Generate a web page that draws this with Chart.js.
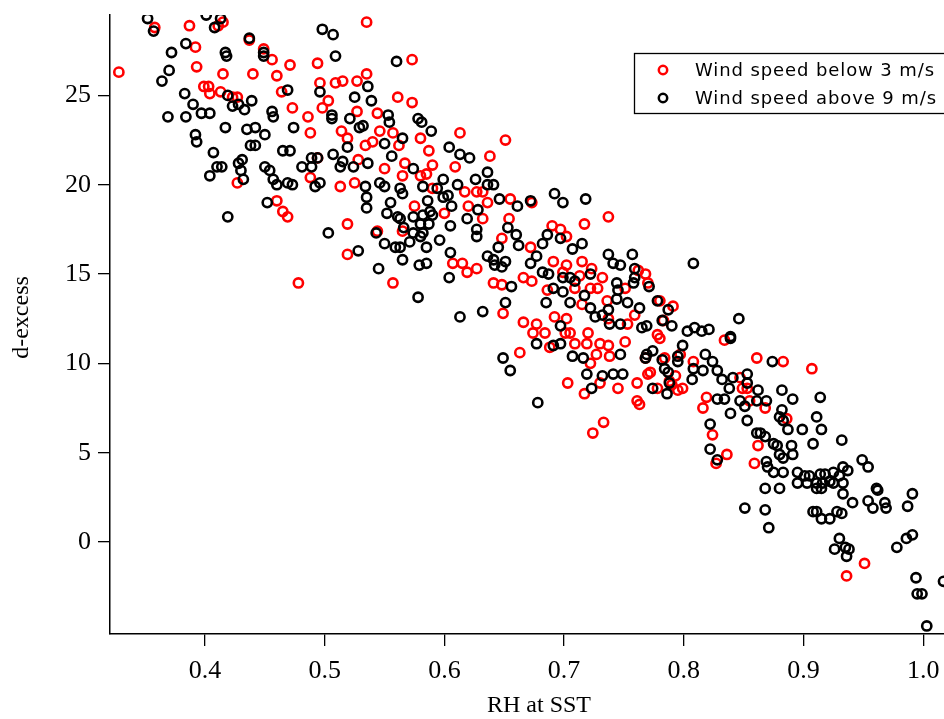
<!DOCTYPE html>
<html>
<head>
<meta charset="utf-8">
<title>d-excess vs RH at SST</title>
<script src="https://cdn.jsdelivr.net/npm/chart.js@4.4.1/dist/chart.umd.min.js"></script>
<style>
  body { margin: 0; background: #fff; }
  #wrap { width: 944px; height: 719px; }
</style>
</head>
<body>
<div id="wrap"><canvas id="graph" width="944" height="719"></canvas></div>
<script>
// ** DATA: ** //

var seriesNames = ['Wind speed below 3 m/s', 'Wind speed above 9 m/s'];
var xTicks = [0.4, 0.5, 0.6, 0.7, 0.8, 0.9, 1.0];
var yTicks = [0, 5, 10, 15, 20, 25];
var xTitle = 'RH at SST';
var yTitle = 'd-excess';

// wind speed below 3 m/s (red)
var rhBelow3 = [0.328,0.358,0.387,0.392,0.393,0.399,0.403,0.404,0.413,0.415,0.415,0.411,0.423,0.427,0.427,
  0.437,0.449,0.456,0.535,0.440,0.460,0.471,0.494,0.464,0.473,0.496,0.509,0.515,0.527,0.535,0.486,0.488,0.498,0.503,0.527,0.544,0.514,0.519,0.534,0.540,0.513,0.525,0.528,0.494,0.488,0.460,0.465,0.469,
  0.519,0.519,0.478,0.544,0.573,0.561,0.573,
  0.613,0.651,0.638,0.587,0.590,0.609,0.550,0.567,0.565,0.585,0.557,0.580,0.617,0.627,0.632,0.636,0.575,0.600,0.620,0.632,0.654,0.655,0.648,0.607,0.615,0.619,0.627,0.557,0.641,0.648,0.649,0.580,0.546,0.562,0.590,0.565,
  0.663,
  0.737,0.717,0.690,0.697,0.702,0.672,0.673,0.691,0.715,0.723,0.732,0.713,0.699,0.686,0.692,0.666,0.677,0.674,0.684,0.688,0.701,0.705,0.709,0.720,0.719,0.730,0.727,0.722,0.737,0.738,0.751,0.753,0.759,0.768,0.762,0.745,0.703,0.717,0.761,0.737,0.733,0.724,0.730,0.763,0.702,0.666,0.709,0.722,0.728,0.715,0.736,0.751,0.770,0.702,0.673,0.768,0.770,0.761,
  0.780,0.791,0.834,0.861,0.883,0.907,0.816,0.824,0.836,0.827,0.819,0.859,0.862,0.868,0.886,0.799,0.795,0.788,0.778,0.772,0.780,0.783,0.778,0.808,0.793,0.847,0.849,0.853,0.855,0.936,0.951,0.790,0.784,0.797];
var dxBelow3 = [26.3,28.8,28.9,27.7,26.6,25.5,25.5,25.1,25.2,26.2,29.1,28.9,24.9,24.9,20.1,
  28.1,27.6,27.0,29.1,26.2,26.1,26.7,26.8,25.2,24.3,25.7,25.7,25.8,25.8,26.2,23.8,22.9,24.3,24.7,24.1,24.0,23.0,22.6,22.2,22.4,19.9,20.1,21.4,21.5,20.4,19.1,18.5,18.2,
  17.8,16.1,14.5,17.4,27.0,24.9,24.6,
  22.9,22.5,21.6,21.9,21.1,21.0,20.9,21.2,20.5,20.6,22.9,22.6,19.6,19.6,19.6,19.0,18.8,18.4,18.8,18.1,18.1,19.2,17.0,15.6,15.6,15.1,15.3,14.5,14.5,14.4,12.8,20.5,23.0,22.2,19.8,17.4,
  10.6,
  18.2,17.8,17.7,17.5,17.1,16.5,14.6,15.7,15.7,15.3,14.8,14.9,15.1,14.1,12.6,12.3,12.2,11.7,11.7,10.9,11.7,11.7,11.1,11.7,11.1,11.1,10.5,10.0,11.0,10.4,11.2,12.2,12.7,15.0,15.2,8.6,8.9,8.3,7.9,12.5,6.7,6.1,8.9,7.7,15.5,14.8,14.2,14.2,14.2,13.3,13.5,14.2,14.5,12.5,19.0,10.3,9.4,8.9,
  13.5,13.2,11.3,10.3,10.1,9.7,7.5,6.0,4.9,4.4,8.1,4.4,5.4,7.5,6.9,8.6,8.5,9.0,8.6,9.5,11.4,12.4,11.6,10.1,9.3,9.2,8.6,8.6,7.9,-1.9,-1.2,8.8,10.3,10.5];

// wind speed above 9 m/s (black)
var rhAbove9 = [0.352,0.357,0.372,0.370,0.364,0.384,0.383,0.390,0.397,0.404,0.369,0.384,0.392,0.393,0.407,0.410,0.414,0.404,0.401,0.413,0.408,0.417,0.418,0.417,0.419,0.423,0.428,0.428,0.419,
  0.437,0.449,0.449,0.498,0.507,0.509,
  0.469,0.496,0.525,0.536,0.539,0.439,0.433,0.456,0.457,0.474,0.506,0.506,0.521,0.529,0.532,0.435,0.442,0.450,0.438,0.442,0.465,0.471,0.489,0.494,0.507,0.519,0.481,0.489,0.513,0.515,0.524,0.536,0.450,0.454,0.457,0.460,0.469,0.473,0.492,0.496,0.452,0.534,0.535,0.535,0.431,0.430,0.432,
  0.503,0.528,0.543,0.545,0.560,
  0.553,0.554,0.578,0.581,0.589,0.565,0.550,0.556,0.574,0.604,0.613,0.621,0.636,0.636,0.641,0.626,0.611,0.599,0.582,0.594,0.599,0.603,0.606,0.586,0.588,0.646,0.661,0.628,0.619,0.627,0.627,0.653,0.660,0.662,0.645,0.636,0.641,0.642,0.651,0.648,0.656,0.651,0.632,0.613,0.604,0.605,0.596,0.605,0.585,0.585,0.579,0.578,0.565,0.550,0.559,0.563,0.566,0.563,0.580,0.582,0.590,0.587,0.582,0.574,0.571,0.580,0.555,0.552,0.546,0.550,0.563,0.565,0.561,0.574,
  0.649,0.655,0.692,0.718,
  0.699,0.697,0.682,0.715,0.707,0.737,0.757,0.741,0.747,0.759,0.759,0.758,0.744,0.745,0.722,0.699,0.705,0.709,0.687,0.682,0.672,0.677,0.691,0.699,0.685,0.705,0.717,0.722,0.744,0.753,0.763,0.726,0.732,0.737,0.738,0.747,0.765,0.769,0.769,0.768,0.749,0.741,0.732,0.723,0.719,0.747,0.716,0.707,0.697,0.697,0.691,0.677,0.678,0.672,0.686,0.771,
  0.808,0.778,
  0.787,0.782,0.790,0.803,0.809,0.815,0.821,0.846,0.839,0.839,0.799,0.774,0.782,0.795,0.795,0.818,0.824,0.874,0.784,0.787,0.808,0.816,0.828,0.832,0.841,0.853,0.853,0.788,0.786,0.807,0.828,0.834,0.838,0.847,0.851,0.862,0.861,0.869,0.839,0.822,0.853,0.882,0.891,0.882,0.880,0.883,0.899,0.887,0.914,0.911,0.915,0.932,0.908,0.861,0.864,0.868,0.875,0.878,0.880,0.883,0.890,0.891,0.869,0.870,0.875,0.883,0.822,0.828,0.868,0.880,0.851,0.868,0.871,0.895,0.901,0.905,0.914,0.918,0.922,0.930,0.916,0.911,0.903,0.895,0.911,0.915,0.925,0.933,0.933,0.941,0.925,0.933,0.937,0.949,0.954,0.961,0.962,0.954,0.968,0.969,0.958,0.908,0.911,0.915,0.922,0.928,0.932,0.930,0.926,0.935,0.938,0.936,0.978,0.986,0.991,0.991,0.987,0.994,0.995,0.999,1.003,1.017,0.774];
var dxAbove9 = [29.3,28.6,27.4,26.4,25.8,27.9,25.1,24.5,24.0,24.0,23.8,23.8,22.8,22.4,21.8,21.0,21.0,20.5,29.5,29.3,28.8,27.4,27.2,23.2,25.0,24.4,24.5,21.2,18.2,
  28.2,27.4,27.2,28.7,28.4,27.2,
  25.3,25.2,24.9,25.5,24.7,24.7,24.2,24.1,23.8,23.2,23.9,23.7,23.7,23.2,23.3,23.1,23.2,22.8,22.2,22.2,21.9,21.9,21.5,21.5,21.7,22.1,21.0,21.0,21.0,21.3,21.0,21.2,21.0,20.8,20.3,20.0,20.1,20.0,19.9,20.1,19.0,19.9,19.3,18.7,21.4,20.8,20.3,
  17.3,16.3,17.3,15.3,26.9,
  23.9,23.5,23.7,23.5,23.0,22.6,22.3,21.6,20.9,22.1,21.7,21.5,20.7,20.0,20.0,20.3,20.0,20.3,19.9,19.8,19.3,19.4,18.8,19.1,18.5,19.2,18.8,18.6,18.1,17.5,17.1,17.6,17.2,16.6,16.5,16.0,15.8,15.5,15.7,15.4,14.3,13.4,12.9,12.6,14.8,16.2,16.9,17.7,16.5,15.6,15.5,13.7,15.8,16.7,16.5,16.5,17.6,18.1,17.8,18.3,18.3,17.8,17.3,17.3,16.8,17.1,19.0,18.4,20.1,19.9,19.8,19.5,18.2,18.2,
  10.3,9.6,19.5,19.2,
  19.0,17.0,16.7,16.7,16.4,16.1,16.1,15.6,15.5,15.3,14.8,14.5,14.5,14.1,15.0,14.8,14.8,14.6,15.0,15.1,15.6,16.0,14.2,14.0,13.4,13.4,13.8,13.1,13.6,13.4,13.1,12.6,12.7,13.0,12.2,12.2,12.0,12.1,10.5,10.3,9.4,9.4,9.3,8.6,9.4,10.5,10.3,10.4,12.1,11.1,11.0,11.1,7.8,19.1,17.2,14.3,
  15.6,13.5,
  13.0,12.4,12.1,11.8,12.0,11.8,11.9,12.5,11.5,11.4,11.0,10.7,10.2,10.4,10.1,10.5,10.1,10.1,9.7,9.5,9.7,9.6,9.6,9.1,9.2,9.4,8.9,8.9,8.3,9.1,8.0,8.0,8.6,7.9,7.6,8.5,7.9,7.9,7.2,6.6,6.8,8.5,8.0,7.4,7.0,6.8,6.3,6.3,8.1,7.0,6.3,5.7,5.5,6.1,6.1,5.9,5.5,5.4,4.9,4.7,5.4,4.9,4.5,4.2,3.9,3.9,5.2,4.6,3.0,3.0,1.9,1.8,0.8,3.9,3.7,3.7,3.8,3.8,3.4,3.7,3.3,3.3,3.3,3.3,3.0,3.0,3.3,3.3,2.7,2.2,3.9,4.2,4.0,4.6,4.2,3.0,2.9,2.3,2.2,1.9,1.9,1.7,1.7,1.3,1.3,1.7,1.6,0.2,-0.4,-0.3,-0.4,-0.8,-0.3,0.2,0.4,2.7,2.0,-2.0,-2.9,-2.9,-4.7,-2.2,8.6];

var seriesColors = ['#ff0000', '#000000'];

// ** FUNCTIONS: ** //

function toPoints(xs, ys) {
  var pts = [];
  for (var i = 0; i < xs.length && i < ys.length; i++) {
    pts.push({x: xs[i], y: ys[i]});
  }
  return pts;
}

function makeDataset(label, xs, ys, color, order) {
  return {
    label: label,
    data: toPoints(xs, ys),
    pointStyle: 'circle',
    pointRadius: 4.6,
    pointHoverRadius: 4.6,
    borderWidth: 2.6,
    borderColor: color,
    backgroundColor: 'rgba(0,0,0,0)',
    showLine: false,
    order: order
  };
}

// axis titles and the boxed legend, drawn by hand to sit where the original has them
var decorPlugin = {
  id: 'decor',
  afterDraw: function(chart) {
    var ctx = chart.ctx;
    var area = chart.chartArea;
    ctx.save();
    ctx.fillStyle = '#000';
    ctx.font = '24px "Liberation Serif", "Times New Roman", serif';
    ctx.textAlign = 'center';
    ctx.textBaseline = 'alphabetic';
    ctx.fillText(xTitle, (area.left + area.right) / 2 + 12, 712);

    ctx.translate(28, (area.top + area.bottom) / 2 - 7);
    ctx.rotate(-Math.PI / 2);
    ctx.fillText(yTitle, 0, 0);
    ctx.restore();

    // legend
    ctx.save();
    ctx.fillStyle = '#fff';
    ctx.fillRect(634, 53, 330, 60);
    ctx.strokeStyle = '#000';
    ctx.lineWidth = 1.3;
    ctx.strokeRect(634.5, 53.5, 330, 60);
    ctx.font = '18px "DejaVu Sans", sans-serif';
    if ('letterSpacing' in ctx) ctx.letterSpacing = '0.9px';
    ctx.textAlign = 'left';
    ctx.textBaseline = 'middle';
    var ds = chart.data.datasets;
    for (var i = 0; i < ds.length; i++) {
      var y = 70 + i * 28;
      ctx.beginPath();
      ctx.arc(663, y, 4.2, 0, Math.PI * 2);
      ctx.lineWidth = 2.5;
      ctx.strokeStyle = ds[i].borderColor;
      ctx.stroke();
      ctx.fillStyle = '#000';
      ctx.fillText(ds[i].label, 695, y + 1);
    }
    ctx.restore();
  }
};

function generateGraph(graphID) {
  var graph = document.getElementById(graphID);
  var tickFont = {family: '"Liberation Serif", "Times New Roman", serif', size: 26};

  new Chart(graph, {
    type: 'scatter',
    data: {
      datasets: [
        makeDataset(seriesNames[0], rhBelow3, dxBelow3, seriesColors[0], 1),
        makeDataset(seriesNames[1], rhAbove9, dxAbove9, seriesColors[1], 0)
      ]
    },
    options: {
      responsive: false,
      animation: false,
      devicePixelRatio: 1,
      layout: {autoPadding: false, padding: {top: 15, right: 0, left: 0, bottom: 0}},
      plugins: {legend: {display: false}, tooltip: {enabled: false}},
      scales: {
        x: {
          type: 'linear',
          min: 0.3206,
          max: 1.0174,
          afterBuildTicks: function(s) { s.ticks = xTicks.map(function(v) { return {value: v}; }); },
          afterFit: function(s) { s.height = 85; s.paddingLeft = 0; s.paddingRight = 0; },
          ticks: {
            font: tickFont, color: '#000', padding: 10, maxRotation: 0, autoSkip: false,
            callback: function(v) { return Number(v).toFixed(1); }
          },
          grid: {drawOnChartArea: false, drawTicks: true, tickLength: 12, color: '#000', lineWidth: 1.3},
          border: {display: true, color: '#000', width: 1.5}
        },
        y: {
          type: 'linear',
          min: -5.15,
          max: 29.5,
          afterBuildTicks: function(s) { s.ticks = yTicks.map(function(v) { return {value: v}; }); },
          afterFit: function(s) { s.width = 110; s.paddingTop = 0; s.paddingBottom = 0; },
          ticks: {font: tickFont, color: '#000', padding: 7, autoSkip: false},
          grid: {drawOnChartArea: false, drawTicks: true, tickLength: 12, color: '#000', lineWidth: 1.3},
          border: {display: true, color: '#000', width: 1.5}
        }
      }
    },
    plugins: [decorPlugin]
  });
}

// ** ENTRY POINT: ** //

generateGraph('graph');
</script>
</body>
</html>
